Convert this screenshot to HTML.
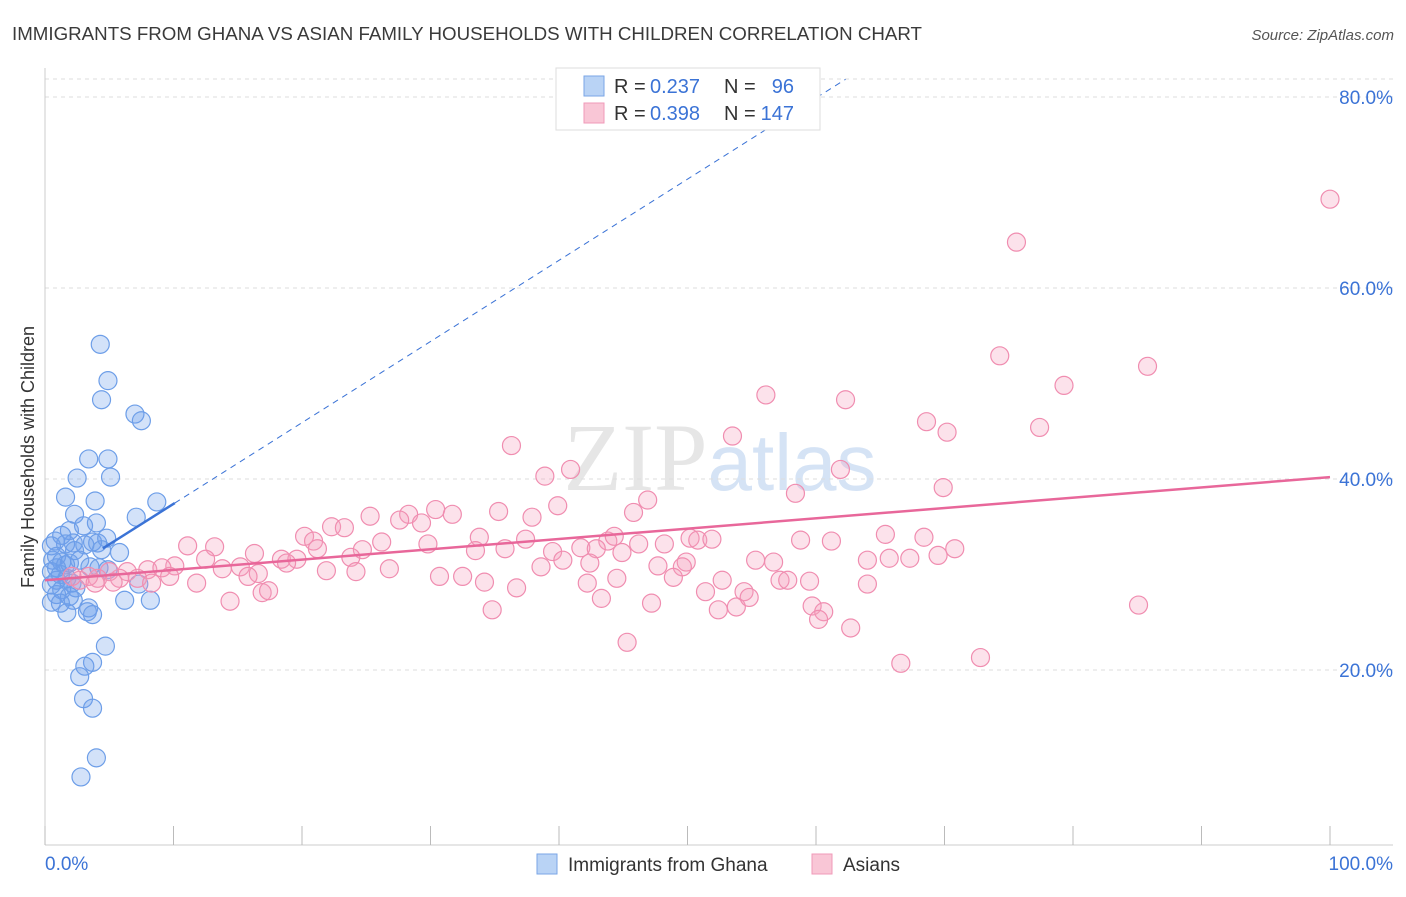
<!DOCTYPE html>
<html><head><meta charset="utf-8"><style>
body{margin:0;background:#fff;font-family:"Liberation Sans",sans-serif;}
</style></head><body>
<svg id="chart" width="1406" height="892" xmlns="http://www.w3.org/2000/svg" font-family="Liberation Sans, sans-serif">
<text x="12" y="40" font-size="18" fill="#3a3a3a" textLength="910" lengthAdjust="spacingAndGlyphs">IMMIGRANTS FROM GHANA VS ASIAN FAMILY HOUSEHOLDS WITH CHILDREN CORRELATION CHART</text>
<text x="1394" y="40" font-size="15" fill="#555" text-anchor="end" font-style="italic">Source: ZipAtlas.com</text>
<text x="720" y="490" font-size="96" fill="#e6e6e6" text-anchor="middle" font-family="Liberation Serif, serif">ZIP<tspan fill="#d5e3f5" font-family="Liberation Sans, sans-serif" font-size="80">atlas</tspan></text>
<g id="grid"></g>
<g id="marks"></g>
<text transform="translate(34,457) rotate(-90)" font-size="18" fill="#333" text-anchor="middle">Family Households with Children</text>
<g>
<rect x="556" y="68" width="264" height="62" fill="#fff" stroke="#ddd"/>
<rect x="584" y="76" width="20" height="20" fill="#b9d3f5" stroke="#7aa6e6"/>
<text x="614" y="93" font-size="20" fill="#333">R =</text>
<text x="650" y="93" font-size="20" fill="#3b73d6">0.237</text>
<text x="724" y="93" font-size="20" fill="#333">N =</text>
<text x="794" y="93" font-size="20" fill="#3b73d6" text-anchor="end">96</text>
<rect x="584" y="103" width="20" height="20" fill="#f9c6d6" stroke="#f09ab8"/>
<text x="614" y="120" font-size="20" fill="#333">R =</text>
<text x="650" y="120" font-size="20" fill="#3b73d6">0.398</text>
<text x="724" y="120" font-size="20" fill="#333">N =</text>
<text x="794" y="120" font-size="20" fill="#3b73d6" text-anchor="end">147</text>
</g>
<g>
<rect x="537" y="854" width="20" height="20" fill="#b9d3f5" stroke="#7aa6e6"/>
<text x="568" y="871" font-size="19" fill="#333">Immigrants from Ghana</text>
<rect x="812" y="854" width="20" height="20" fill="#f9c6d6" stroke="#f09ab8"/>
<text x="843" y="871" font-size="19" fill="#333">Asians</text>
</g>
</svg>
<script>
const blueX=[4.3,4.9,4.4,7.0,7.5,3.4,4.9,5.1,2.5,1.6,3.9,8.7,2.3,7.1,3.0,4.0,1.9,1.3,4.8,3.7,4.1,2.2,0.8,1.6,0.5,3.1,4.4,5.8,2.3,0.9,0.6,1.3,1.9,2.7,1.6,0.9,3.5,4.2,4.9,0.5,1.2,1.7,0.9,2.1,0.5,1.3,2.4,0.9,1.9,0.5,1.2,2.2,7.3,6.2,8.2,3.4,3.3,3.7,1.7,4.7,3.7,3.1,2.7,3.0,3.7,4.0,2.8];
const blueY=[54.1,50.3,48.3,46.8,46.1,42.1,42.1,40.2,40.1,38.1,37.7,37.6,36.3,36.0,35.1,35.4,34.6,34.1,33.8,33.4,33.3,33.3,33.5,33.2,33.0,33.1,32.6,32.3,32.5,31.9,31.5,31.3,31.2,31.5,31.0,30.7,30.8,30.7,30.5,30.3,30.0,29.6,29.4,29.1,28.9,28.4,28.6,27.9,27.7,27.1,27.0,27.3,29.0,27.3,27.3,26.5,26.1,25.8,26.0,22.5,20.8,20.4,19.3,17.0,16.0,10.8,8.8];
const pinkX=[100,75.6,74.3,85.8,79.3,56.1,62.3,68.6,70.2,77.4,53.5,36.3,61.9,38.9,40.9,69.9,58.4,46.9,39.9,35.3,30.4,31.7,28.3,27.6,25.3,29.3,37.9,45.8,22.3,23.3,20.2,20.9,26.2,33.8,37.4,43.8,44.3,29.8,21.2,24.7,33.5,35.8,39.5,41.7,42.9,44.9,46.2,48.2,50.2,50.8,51.9,58.8,61.2,65.4,68.4,70.8,69.5,67.3,65.7,64.0,55.3,56.7,49.9,49.6,47.7,40.3,42.4,23.8,16.3,18.4,13.2,11.1,12.5,15.2,16.6,19.6,18.8,10.1,8.0,9.1,6.4,5.8,5.0,4.1,3.4,2.7,2.1,3.9,5.3,7.2,8.3,9.7,11.8,13.8,15.8,21.9,24.2,26.8,30.7,32.5,34.2,36.7,42.2,38.6,44.5,48.9,52.7,54.4,57.2,57.8,59.5,64.0,14.4,16.9,17.4,43.3,47.2,51.4,52.4,53.8,54.8,59.7,60.6,60.2,85.1,34.8,45.3,62.7,66.6,72.8];
const pinkY=[69.3,64.8,52.9,51.8,49.8,48.8,48.3,46.0,44.9,45.4,44.5,43.5,41.0,40.3,41.0,39.1,38.5,37.8,37.2,36.6,36.8,36.3,36.3,35.7,36.1,35.4,36.0,36.5,35.0,34.9,34.0,33.5,33.4,33.9,33.7,33.5,34.0,33.2,32.7,32.6,32.5,32.7,32.4,32.8,32.7,32.3,33.2,33.2,33.8,33.6,33.7,33.6,33.5,34.2,33.9,32.7,32.0,31.7,31.7,31.5,31.5,31.3,31.3,30.8,30.9,31.5,31.2,31.8,32.2,31.6,32.9,33.0,31.6,30.8,30.1,31.6,31.2,30.9,30.5,30.7,30.3,29.6,30.3,29.6,29.8,29.4,29.8,29.1,29.2,29.6,29.1,29.8,29.1,30.6,29.8,30.4,30.3,30.6,29.8,29.8,29.2,28.6,29.1,30.8,29.6,29.7,29.4,28.2,29.4,29.4,29.3,29.0,27.2,28.1,28.3,27.5,27.0,28.2,26.3,26.6,27.6,26.7,26.1,25.3,26.8,26.3,22.9,24.4,20.7,21.3];
const yTicks=[20,40,60,80];
const yTickLabels=["20.0%","40.0%","60.0%","80.0%"];
const xEndLabels=["0.0%","100.0%"];
const blueTrend=[28.9,0.85];
const pinkTrend=[29.4,0.108];
const NS="http://www.w3.org/2000/svg";
const sx=v=>45+v*12.85, sy=v=>861-v*9.55;
function mk(tag,attrs,parent){const e=document.createElementNS(NS,tag);for(const k in attrs)e.setAttribute(k,attrs[k]);parent.appendChild(e);return e;}
const grid=document.getElementById('grid'), marks=document.getElementById('marks');
yTicks.forEach((t,i)=>{
 const l=mk('line',{x1:45,x2:1393,y1:sy(t),y2:sy(t),stroke:'#ddd','stroke-dasharray':'4,4'},grid);
 
 
 const tx=mk('text',{x:1393,y:sy(t)+7,'font-size':19,fill:'#3b73d6','text-anchor':'end'},grid);
 tx.textContent=yTickLabels[i];
 
 
});
const topLine=mk('line',{x1:45,x2:1393,y1:79,y2:79,stroke:'#ddd','stroke-dasharray':'4,4'},grid);


const ax=mk('line',{x1:45,x2:1393,y1:845,y2:845,stroke:'#ccc'},grid);


const ay=mk('line',{x1:45,x2:45,y1:68,y2:845,stroke:'#ccc'},grid);


for(let i=0;i<=10;i++){
 const t=mk('line',{x1:sx(i*10),x2:sx(i*10),y1:826,y2:845,stroke:'#bbb'},grid);
 
 
}
[[0,'start',45],[100,'end',1393]].forEach((d,i)=>{
 const t=mk('text',{x:d[2],y:870,'font-size':19,fill:'#3b73d6','text-anchor':d[1]},grid);
 t.textContent=xEndLabels[i];
 
 
});
blueX.forEach((x,i)=>{
 const c=mk('circle',{cx:sx(x),cy:sy(blueY[i]),r:9,fill:'rgba(110,160,235,0.3)',stroke:'#6d9ee8','stroke-width':1.2},marks);
 
 
});
pinkX.forEach((x,i)=>{
 const c=mk('circle',{cx:sx(x),cy:sy(pinkY[i]),r:9,fill:'rgba(245,160,190,0.3)',stroke:'#f08db0','stroke-width':1.2},marks);
 
 
});
const bf=x=>blueTrend[0]+blueTrend[1]*x, pf=x=>pinkTrend[0]+pinkTrend[1]*x;
const bd=mk('line',{x1:sx(10.1),y1:sy(bf(10.1)),x2:sx(62.3),y2:sy(bf(62.3)),stroke:'#3b73d6','stroke-width':1,'stroke-dasharray':'6,5'},marks);


const bs=mk('line',{x1:sx(4.5),y1:sy(bf(4.5)),x2:sx(10.1),y2:sy(bf(10.1)),stroke:'#3b73d6','stroke-width':2.5},marks);


const ps=mk('line',{x1:sx(0),y1:sy(pf(0)),x2:sx(100),y2:sy(pf(100)),stroke:'#e8679a','stroke-width':2.5},marks);


</script>
</body></html>
